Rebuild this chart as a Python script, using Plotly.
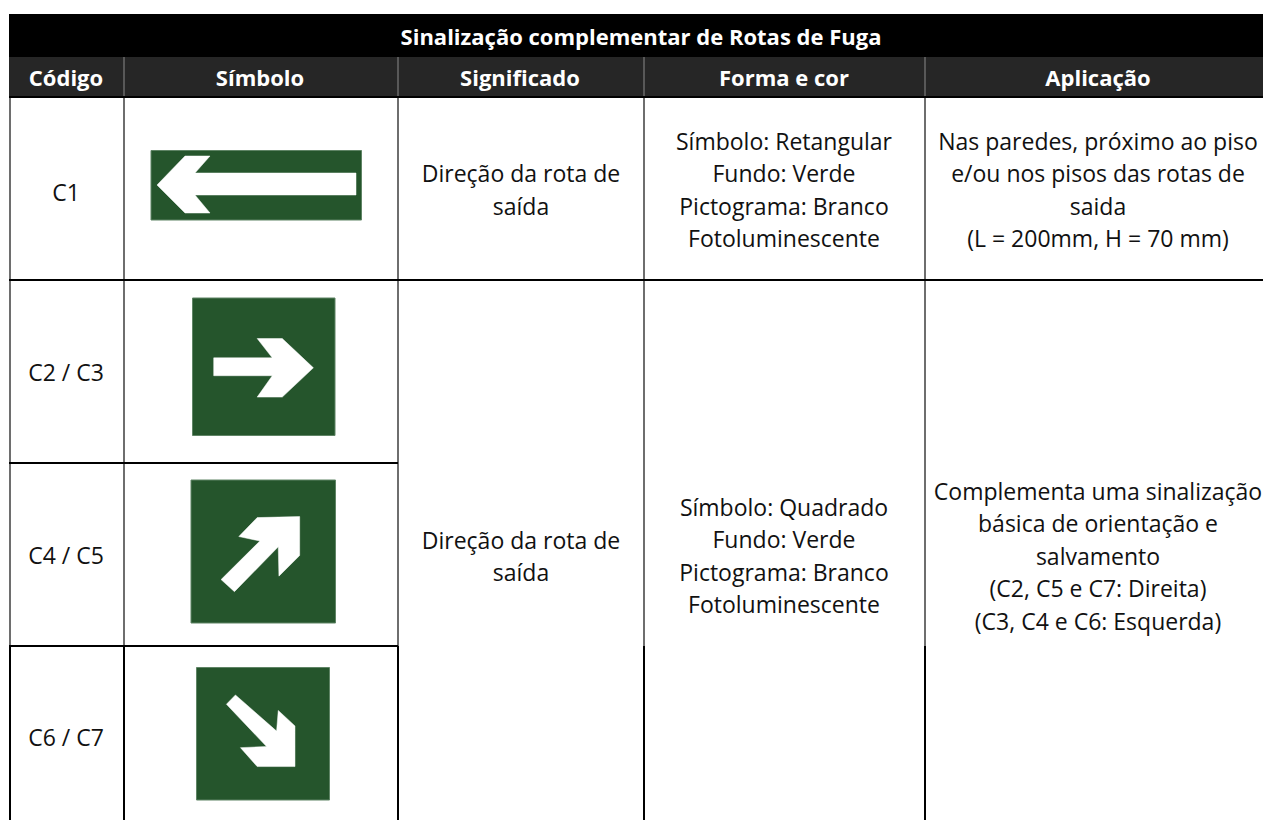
import plotly.graph_objects as go

TITLE = "Sinalização complementar de Rotas de Fuga"
COLUMNS = ["Código", "Símbolo", "Significado", "Forma e cor", "Aplicação"]
CODES = ["C1", "C2 / C3", "C4 / C5", "C6 / C7"]
MEANING = ["Direção da rota de", "saída"]
SHAPE_RECT = ["Símbolo: Retangular", "Fundo: Verde", "Pictograma: Branco", "Fotoluminescente"]
SHAPE_SQUARE = ["Símbolo: Quadrado", "Fundo: Verde", "Pictograma: Branco", "Fotoluminescente"]
APP_1 = ["Nas paredes, próximo ao piso", "e/ou nos pisos das rotas de", "saida", "(L = 200mm, H = 70 mm)"]
APP_2 = ["Complementa uma sinalização", "básica de orientação e", "salvamento", "(C2, C5 e C7: Direita)", "(C3, C4 e C6: Esquerda)"]

FONT = "Open Sans"
SIZE = 23
HEAD_SIZE = 22
INK = "#111111"
GREEN = "#25552C"
EDGE = "#5f8465"
fig = go.Figure()


def band(x0, x1, y0, y1, color):
    fig.add_trace(go.Scatter(x=[x0, x1, x1, x0, x0], y=[y0, y0, y1, y1, y0], mode="lines", fill="toself",
                             fillcolor=color, line=dict(color=color, width=0), hoverinfo="skip"))


def lines(segments, color, width):
    xs, ys = [], []
    for x0, y0, x1, y1 in segments:
        xs += [x0, x1, None]
        ys += [y0, y1, None]
    fig.add_trace(go.Scatter(x=xs, y=ys, mode="lines", line=dict(color=color, width=width), hoverinfo="skip"))


def sign(x0, x1, y0, y1, arrow):
    fig.add_trace(go.Scatter(x=[x0, x1, x1, x0, x0], y=[y0, y0, y1, y1, y0], mode="lines", fill="toself",
                             fillcolor=GREEN, line=dict(color=EDGE, width=1), hoverinfo="skip"))
    ax = [p[0] for p in arrow] + [arrow[0][0]]
    ay = [p[1] for p in arrow] + [arrow[0][1]]
    fig.add_trace(go.Scatter(x=ax, y=ay, mode="lines", fill="toself", fillcolor="#FFFFFF",
                             line=dict(color="#FFFFFF", width=0.5), hoverinfo="skip"))


def text(x, y, rows, color=INK, bold=False, size=SIZE, step=32.5):
    for i, row in enumerate(rows):
        yy = y + 2.5 + (i - (len(rows) - 1) / 2) * step
        fig.add_trace(go.Scatter(x=[x], y=[yy], mode="text", text=[row], textposition="middle center",
                                 cliponaxis=True, hoverinfo="skip",
                                 textfont=dict(family=FONT, size=size, color=color,
                                               weight="bold" if bold else "normal")))


# header bands
band(9, 1263, 14, 57, "#000000")
band(9, 1263, 57, 97, "#262626")

# signs
sign(151, 361.5, 150.5, 220, [(157, 185), (185, 156), (210, 156), (195, 173), (356, 173), (356, 195), (195, 195),
                               (210, 213), (185, 213)])


def zp(points):
    return [(100 + a / 2.99, 280 + b / 2.904) for a, b in points]


sign(192.5, 335, 298, 435.5, zp([(340, 226), (515, 226), (470, 170), (545, 170), (638, 255), (545, 340), (470, 340),
                                 (515, 278), (340, 278)]))
sign(191, 335.5, 480, 623, zp([(362, 870), (478, 758), (415, 745), (470, 690), (597, 687), (597, 800), (535, 860),
                               (533, 775), (402, 905)]))
sign(196.5, 329.5, 667.5, 800, zp([(378, 1232), (405, 1205), (528, 1310), (533, 1250), (583, 1295), (583, 1413),
                                   (470, 1413), (420, 1358), (498, 1355)]))

# rules
lines([(10, 97, 10, 646), (124, 97, 124, 646), (398, 97, 398, 646), (644, 97, 644, 646), (925, 97, 925, 646)],
      "#6e6e6e", 2)
lines([(124, 57, 124, 97), (398, 57, 398, 97), (644, 57, 644, 97), (925, 57, 925, 97)], "#8a8a8a", 1)
lines([(9, 97, 1263, 97), (9, 280, 1263, 280)], "#000000", 2)
lines([(9, 463, 398, 463), (9, 646, 398, 646)], "#000000", 2)
lines([(10, 646, 10, 820), (124, 646, 124, 820), (398, 646, 398, 820), (644, 646, 644, 820), (925, 646, 925, 820)],
      "#000000", 2)

# text
text(641, 37, [TITLE], color="#FFFFFF", bold=True, size=HEAD_SIZE)
for cx, label in zip([66, 260, 520, 784, 1098], COLUMNS):
    text(cx, 78, [label], color="#FFFFFF", bold=True, size=HEAD_SIZE)
for cy, code in zip([193, 373, 556, 738], CODES):
    text(66, cy, [code])
text(521, 190, MEANING)
text(521, 556.5, MEANING)
text(784, 190, SHAPE_RECT)
text(784, 556, SHAPE_SQUARE)
text(1098, 190, APP_1)
text(1098, 556.5, APP_2)

fig.update_layout(width=1263, height=820, margin=dict(l=0, r=0, t=0, b=0), paper_bgcolor="#FFFFFF",
                  plot_bgcolor="#FFFFFF", showlegend=False, autosize=False,
                  xaxis=dict(range=[0, 1263], visible=False, fixedrange=True),
                  yaxis=dict(range=[820, 0], visible=False, fixedrange=True))
fig.write_html("out.html", config={"displayModeBar": False},
               post_script="document.body.style.margin='0';document.documentElement.style.overflow='hidden';")
